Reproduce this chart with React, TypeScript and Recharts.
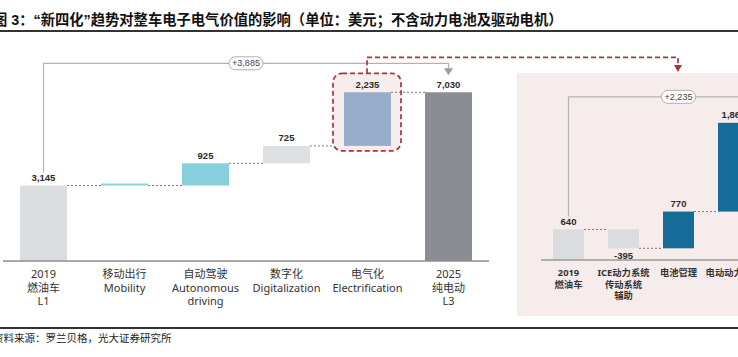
import React from 'react';
import { BarChart, Bar, XAxis, YAxis } from 'recharts';

// ---------- data ----------
const leftCategories = ['2019\n燃油车\nL1', '移动出行\nMobility', '自动驾驶\nAutonomous\ndriving', '数字化\nDigitalization', '电气化\nElectrification', '2025\n纯电动\nL3'];
const leftValues = [3145, 0, 925, 725, 2235, 7030];
const leftIsTotal = [true, false, false, false, false, true];
const leftValueLabels = ['3,145', '', '925', '725', '2,235', '7,030'];
const leftColors = ['#dcdde0', '#8cd2df', '#88cfde', '#dfe0e3', '#97aeca', '#8a8e94'];
const leftBracketLabel = '+3,885';

const rightCategories = ['2019\n燃油车', 'ICE动力系统\n传动系统\n辅助', '电池管理', '电动动力总成', '2025\n纯电动'];
const rightValues = [640, -395, 770, 1860, 2875];
const rightIsTotal = [true, false, false, false, true];
const rightValueLabels = ['640', '-395', '770', '1,860', '2,875'];
const rightColors = ['#dadcdf', '#dadcdf', '#176b99', '#176b99', '#8a8e94'];
const rightBracketLabel = '+2,235';

const titleText = '图 3：“新四化”趋势对整车电子电气价值的影响（单位：美元；不含动力电池及驱动电机）';
const sourceText = '资料来源：罗兰贝格，光大证券研究所';

type Row = { name: string; range: [number, number]; lo: number; hi: number; end: number; delta: number; label: string; color: string };

function buildRows(cats: string[], vals: number[], totals: boolean[], labels: string[], colors: string[]): Row[] {
  let run = 0;
  return cats.map((name, i) => {
    let lo: number, hi: number, end: number;
    if (totals[i]) {
      lo = 0; hi = vals[i]; end = vals[i]; run = vals[i];
    } else {
      const s = run; const e = run + vals[i];
      lo = Math.min(s, e); hi = Math.max(s, e); end = e; run = e;
    }
    return { name, range: [lo, hi], lo, hi, end, delta: vals[i], label: labels[i], color: colors[i] };
  });
}

const leftRows = buildRows(leftCategories, leftValues, leftIsTotal, leftValueLabels, leftColors);
const rightRows = buildRows(rightCategories, rightValues, rightIsTotal, rightValueLabels, rightColors);

// ---------- layout ----------
const L = { w: 738, h: 320, margin: { top: 57, right: 249, bottom: 9, left: 3 }, axisH: 50, domainMax: 8500 };
const R = { w: 320, h: 310, margin: { top: 93, right: 22, bottom: 0, left: 23 }, axisH: 50, domainMax: 3500, left: 518 };
const PANEL = { x: 517, y: 73, w: 240, h: 243 };
const RED_TARGET_X = 678;

const LABEL_FONT = '"Liberation Sans", Arial, sans-serif';
const CJK_FONT = '"Noto Sans", "Noto Sans CJK SC", sans-serif';

type ShapeCfg = {
  rows: Row[];
  step: number;
  bracketLabel: string;
  bracketGap: number;
  arrowGap: number;
  labelSize: number;
  highlight?: number;
};

const makeShape = (cfg: ShapeCfg) => (props: any) => {
  const { x, y, width, height, index } = props;
  const row = cfg.rows[index];
  const n = cfg.rows.length;
  const top = y;
  const bottom = y + height;
  const endY = row.end === row.hi && row.hi > row.lo ? top : bottom;
  const isLast = index === n - 1;
  const parts: React.ReactNode[] = [];

  if (cfg.highlight === index) {
    const rx0 = x - 11;
    const rx1 = x + width + 10;
    const ry0 = top - 19;
    const ry1 = bottom + 5;
    const cx = (rx0 + rx1) / 2;
    const lineY = ry0 - 16;
    const tipY = PANEL.y - 1;
    parts.push(
      <rect key="hb" x={rx0} y={ry0} width={rx1 - rx0} height={ry1 - ry0} rx={9} ry={9} fill="#f8eded" stroke="#a6363b" strokeWidth={1.7} strokeDasharray="5 3" />
    );
    parts.push(
      <path key="hl" d={`M${cx},${ry0} L${cx},${lineY} L${RED_TARGET_X},${lineY} L${RED_TARGET_X},${tipY - 6}`} fill="none" stroke="#a6363b" strokeWidth={1.7} strokeDasharray="5 3" />
    );
    parts.push(
      <path key="ha" d={`M${RED_TARGET_X - 4},${tipY - 7} L${RED_TARGET_X + 4},${tipY - 7} L${RED_TARGET_X},${tipY} Z`} fill="#a6363b" />
    );
  }

  parts.push(<rect key="b" x={x} y={top} width={width} height={Math.max(height, 0)} fill={row.color} />);

  if (!isLast) {
    parts.push(
      <line key="c" x1={x + width} y1={endY} x2={x + cfg.step} y2={endY} stroke="#7a7a7a" strokeWidth={1} strokeDasharray="2 2" />
    );
  }

  if (row.label) {
    const ly = row.delta >= 0 ? top - 8 : bottom + 7;
    parts.push(
      <text key="t" x={x + width / 2} y={ly} textAnchor="middle" dominantBaseline="central" fontFamily={LABEL_FONT} fontWeight="bold" fontSize={cfg.labelSize} fill="#2b2b2b">
        {row.label}
      </text>
    );
  }

  if (index === 0) {
    const ppu = height / row.hi;
    const maxVal = Math.max(...cfg.rows.map((r) => r.hi));
    const yMax = bottom - maxVal * ppu;
    const level = yMax - cfg.bracketGap;
    const tipY = yMax - cfg.arrowGap;
    const cx0 = x + width / 2;
    const cx1 = cx0 + (n - 1) * cfg.step;
    const mid = (cx0 + cx1) / 2;
    parts.push(
      <path key="br" d={`M${cx0},${top - 13} L${cx0},${level} L${cx1},${level} L${cx1},${tipY - 6}`} fill="none" stroke="#b3b3b3" strokeWidth={1.2} />
    );
    parts.push(
      <path key="ba" d={`M${cx1 - 4.5},${tipY - 7} L${cx1 + 4.5},${tipY - 7} L${cx1},${tipY} Z`} fill="#9a9ca0" />
    );
    parts.push(
      <rect key="pr" x={mid - 17} y={level - 6.5} width={34} height={13} rx={6.5} ry={6.5} fill="#ffffff" stroke="#b0b0b0" strokeWidth={1} />
    );
    parts.push(
      <text key="pt" x={mid} y={level} textAnchor="middle" dominantBaseline="central" fontFamily={LABEL_FONT} fontSize={9} fill="#444">
        {cfg.bracketLabel}
      </text>
    );
  }
  return <g>{parts}</g>;
};

const MultiTick = (props: any) => {
  const { x, y, payload, fontSize, lineH, firstDy, weight } = props;
  const lines = String(payload.value).split('\n');
  return (
    <text x={x} y={y} textAnchor="middle" fontFamily={CJK_FONT} fontSize={fontSize} fontWeight={weight} fill="#333">
      {lines.map((s, i) => (
        <tspan key={i} x={x} dy={i === 0 ? firstDy : lineH}>{s}</tspan>
      ))}
    </text>
  );
};

const leftStep = (L.w - L.margin.left - L.margin.right) / leftRows.length;
const rightStep = (R.w - R.margin.left - R.margin.right) / rightRows.length;

const leftShape = makeShape({ rows: leftRows, step: leftStep, bracketLabel: leftBracketLabel, bracketGap: 29, arrowGap: 17, labelSize: 9.5, highlight: 4 });
const rightShape = makeShape({ rows: rightRows, step: rightStep, bracketLabel: rightBracketLabel, bracketGap: 26, arrowGap: 14, labelSize: 9.5 });

export default function App() {
  return (
    <div style={{ position: 'absolute', left: 0, top: 0, width: 738, height: 357, overflow: 'hidden', background: '#ffffff' }}>
      <div style={{ position: 'absolute', left: -7, top: 10, fontSize: 14.3, fontWeight: 'bold', lineHeight: '20px', whiteSpace: 'nowrap', fontFamily: '"Liberation Sans", "Noto Sans CJK SC", sans-serif', color: '#111' }}>
        {titleText}
      </div>
      <div style={{ position: 'absolute', left: 0, top: 30, width: 738, height: 2, background: '#333' }} />

      <div style={{ position: 'absolute', left: PANEL.x, top: PANEL.y, width: PANEL.w, height: PANEL.h, background: '#f6ecec' }} />

      <div style={{ position: 'absolute', left: 0, top: 0 }}>
        <BarChart width={L.w} height={L.h} data={leftRows} margin={L.margin} barSize={47}>
          <YAxis hide domain={[0, L.domainMax]} type="number" />
          <XAxis
            dataKey="name"
            interval={0}
            height={L.axisH}
            tickLine={false}
            tickSize={0}
            tickMargin={0}
            axisLine={{ stroke: '#8c8c8c', strokeWidth: 1.5 }}
            tick={<MultiTick fontSize={11} lineH={13.5} firstDy={17} weight="normal" />}
          />
          <Bar dataKey="range" isAnimationActive={false} shape={leftShape} minPointSize={2} />
        </BarChart>
      </div>

      <div style={{ position: 'absolute', left: R.left, top: 0 }}>
        <BarChart width={R.w} height={R.h} data={rightRows} margin={R.margin} barSize={31}>
          <YAxis hide domain={[0, R.domainMax]} type="number" />
          <XAxis
            dataKey="name"
            interval={0}
            height={R.axisH}
            tickLine={false}
            tickSize={0}
            tickMargin={0}
            axisLine={{ stroke: '#9a9a9a', strokeWidth: 1.5 }}
            tick={<MultiTick fontSize={9.3} lineH={11.5} firstDy={16} weight="bold" />}
          />
          <Bar dataKey="range" isAnimationActive={false} shape={rightShape} minPointSize={2} />
        </BarChart>
      </div>

      <div style={{ position: 'absolute', left: 0, top: 327, width: 738, height: 2, background: '#333' }} />
      <div style={{ position: 'absolute', left: -7, top: 331, fontSize: 10.5, lineHeight: '13px', whiteSpace: 'nowrap', fontFamily: '"Noto Sans CJK SC", sans-serif', color: '#222' }}>
        {sourceText}
      </div>
    </div>
  );
}
